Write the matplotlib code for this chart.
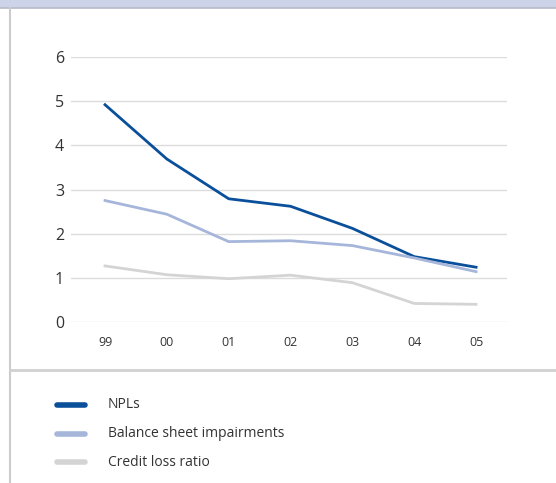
import matplotlib.pyplot as plt
from matplotlib.lines import Line2D
from matplotlib.patches import Rectangle

years = ["99", "00", "01", "02", "03", "04", "05"]
npls = [4.92, 3.69, 2.79, 2.62, 2.12, 1.48, 1.24]
impairments = [2.75, 2.44, 1.82, 1.84, 1.73, 1.45, 1.14]
credit_loss = [1.27, 1.07, 0.98, 1.06, 0.89, 0.42, 0.40]
y_ticks = [0, 1, 2, 3, 4, 5, 6]

series = [
    ("NPLs", npls, "#0a4f9a"),
    ("Balance sheet impairments", impairments, "#a6b6da"),
    ("Credit loss ratio", credit_loss, "#d4d4d4"),
]

plt.rcParams['font.family'] = ['Open Sans', 'DejaVu Sans']

fig = plt.figure(figsize=(5.56, 4.83), dpi=100)
W, H = 556, 483

# page furniture: top band, left rule, separator above legend
fig.patches.append(Rectangle((0, 1 - 7 / H), 1, 7 / H, transform=fig.transFigure,
                             color="#cdd3e8", zorder=0))
fig.add_artist(Line2D([0, 1], [1 - 7.5 / H] * 2, transform=fig.transFigure,
                      color="#b8bcc8", lw=1.2))
fig.add_artist(Line2D([9.5 / W] * 2, [0, 1 - 8 / H], transform=fig.transFigure,
                      color="#cccccc", lw=1.5))
fig.add_artist(Line2D([9.5 / W, 1], [1 - 370 / H] * 2, transform=fig.transFigure,
                      color="#d0d0d0", lw=2))

ax = fig.add_axes([71 / W, 1 - 322 / H, 436 / W, 265 / H])
x = list(range(len(years)))
for name, vals, col in series:
    ax.plot(x, vals, color=col, lw=2, solid_joinstyle="round", zorder=3)

ax.set_xlim(-0.55, 6.5)
ax.set_ylim(0, 6)
ax.set_yticks(y_ticks)
ax.set_yticklabels([str(t) for t in y_ticks], fontsize=11.5, color="#333333")
ax.set_xticks(x)
ax.set_xticklabels(years, fontsize=9, color="#333333")
ax.tick_params(length=0)
ax.tick_params(axis="y", pad=5)
ax.tick_params(axis="x", pad=10)
ax.grid(axis="y", color="#dcdcdc", lw=1)
ax.set_axisbelow(True)
for s in ax.spines.values():
    s.set_visible(False)

# legend drawn by hand as short rounded bars
for i, (name, vals, col) in enumerate(series):
    yy = 1 - (405 + i * 28.5) / H
    fig.add_artist(Line2D([57 / W, 85 / W], [yy, yy], transform=fig.transFigure,
                          color=col, lw=4, solid_capstyle="round"))
    fig.text(108 / W, yy, name, fontsize=10, color="#333333", va="center")

fig.savefig("out.png", dpi=100)
